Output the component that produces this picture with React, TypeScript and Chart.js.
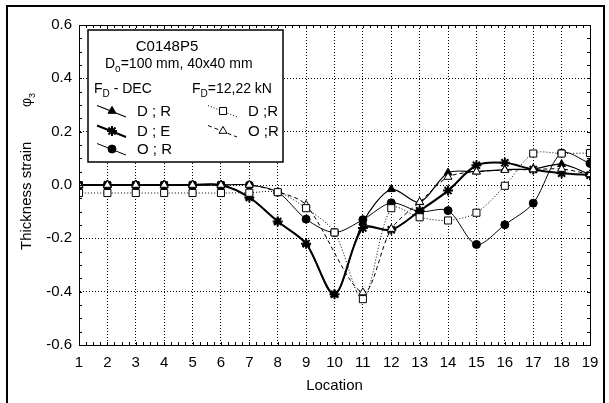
import React, { useEffect, useRef } from 'react';
import { Chart, registerables } from 'chart.js';
import { drawPoint } from 'chart.js/helpers';

Chart.register(...registerables);

const locations = [1, 2, 3, 4, 5, 6, 7, 8, 9, 10, 11, 12, 13, 14, 15, 16, 17, 18, 19];
const yTicks = [-0.6, -0.4, -0.2, 0, 0.2, 0.4, 0.6];

// F_D - DEC
const decDR = [0, 0, 0, 0, 0, 0, -0.045, -0.137, -0.22, -0.41, -0.14, -0.016, -0.065, 0.046, 0.05, 0.058, 0.06, 0.078, 0.04];
const decDE = [0, 0, 0, 0, 0, 0, -0.047, -0.137, -0.22, -0.41, -0.161, -0.168, -0.097, -0.021, 0.074, 0.083, 0.058, 0.044, 0.037];
const decOR = [0, 0, 0, 0, 0, 0, 0, -0.027, -0.128, -0.178, -0.13, -0.067, -0.1, -0.096, -0.223, -0.149, -0.068, 0.12, 0.081];
// F_D = 12,22 kN
const fdDR = [-0.03, -0.03, -0.03, -0.03, -0.03, -0.03, -0.029, -0.027, -0.087, -0.178, -0.428, -0.087, -0.121, -0.133, -0.104, -0.003, 0.118, 0.118, 0.12];
const fdOR = [0, 0, 0, 0, 0, 0, 0, -0.025, -0.075, null, -0.403, -0.165, -0.064, 0.03, 0.05, 0.056, 0.058, 0.06, 0.04];

const FONT = "'Liberation Sans', Arial, Helvetica, sans-serif";

const toPts = (arr: (number | null)[]) => locations.map((x, i) => ({ x, y: arr[i] }));

const styles = {
  fdDR: { pointStyle: 'rect', radius: 5, fill: '#fff', pw: 1, lw: 1, dash: [1, 2] },
  fdOR: { pointStyle: 'triangle', radius: 4.6, fill: '#fff', pw: 1, lw: 1, dash: [4, 3] },
  decDE: { pointStyle: 'star', radius: 5, fill: '#000', pw: 2, lw: 2, dash: [] as number[] },
  decDR: { pointStyle: 'triangle', radius: 4.6, fill: '#000', pw: 1, lw: 1.2, dash: [] as number[] },
  decOR: { pointStyle: 'circle', radius: 4, fill: '#000', pw: 1, lw: 1, dash: [] as number[] },
};

function ds(label: string, arr: (number | null)[], s: any) {
  return {
    label,
    data: toPts(arr),
    borderColor: '#000',
    backgroundColor: s.fill,
    borderWidth: s.lw,
    borderDash: s.dash,
    pointStyle: s.pointStyle,
    pointRadius: s.radius,
    pointBackgroundColor: s.fill,
    pointBorderColor: '#000',
    pointBorderWidth: s.pw,
    tension: 0.3,
    spanGaps: true,
    fill: false,
  };
}

const framePlugin = {
  id: 'framePlugin',
  beforeDraw(chart: any) {
    const ctx = chart.ctx;
    ctx.save();
    ctx.fillStyle = '#fff';
    ctx.fillRect(0, 0, chart.width, chart.height);
    ctx.restore();
  },
  afterDraw(chart: any) {
    const ctx = chart.ctx;
    const { left, right, top, bottom } = chart.chartArea;
    const xs = chart.scales.x;
    const ys = chart.scales.y;
    ctx.save();
    // plot border
    ctx.strokeStyle = '#000';
    ctx.lineWidth = 1;
    ctx.setLineDash([]);
    ctx.strokeRect(left + 0.5, top + 0.5, right - left, bottom - top);
    // minor ticks
    ctx.beginPath();
    for (let v = 1; v <= 19.001; v += 0.25) {
      const px = Math.round(xs.getPixelForValue(v)) + 0.5;
      ctx.moveTo(px, bottom);
      ctx.lineTo(px, bottom - 3);
      ctx.moveTo(px, top);
      ctx.lineTo(px, top + 3);
    }
    for (let v = -0.6; v <= 0.601; v += 0.05) {
      const py = Math.round(ys.getPixelForValue(v)) + 0.5;
      ctx.moveTo(left, py);
      ctx.lineTo(left + 3, py);
      ctx.moveTo(right, py);
      ctx.lineTo(right - 3, py);
    }
    ctx.stroke();

    // outer frame
    ctx.lineWidth = 2;
    ctx.strokeRect(7, 6, 597, 420);

    // axis titles
    ctx.fillStyle = '#000';
    ctx.font = `15px ${FONT}`;
    ctx.textAlign = 'center';
    ctx.textBaseline = 'middle';
    ctx.fillText('Location', (left + right) / 2, 386);

    ctx.save();
    ctx.translate(31, 250);
    ctx.rotate(-Math.PI / 2);
    ctx.textAlign = 'left';
    ctx.textBaseline = 'alphabetic';
    ctx.font = `15px ${FONT}`;
    ctx.fillText('Thickness strain', 0, 0);
    ctx.font = `14px ${FONT}`;
    ctx.fillText('φ', 143, 0);
    const pw = ctx.measureText('φ').width;
    ctx.font = `9px ${FONT}`;
    ctx.fillText('3', 143 + pw, 4);
    ctx.restore();

    // legend box
    const bx = 88, by = 30, bw = 195, bh = 132;
    ctx.fillStyle = '#fff';
    ctx.fillRect(bx, by, bw, bh);
    ctx.strokeStyle = '#000';
    ctx.lineWidth = 1.5;
    ctx.strokeRect(bx, by, bw, bh);

    ctx.fillStyle = '#000';
    ctx.textBaseline = 'alphabetic';
    ctx.textAlign = 'center';
    ctx.font = `15px ${FONT}`;
    ctx.fillText('C0148P5', 167, 51);

    const subText = (x: number, y: number, main: string, sub: string, rest: string, size: number) => {
      ctx.textAlign = 'left';
      ctx.font = `${size}px ${FONT}`;
      ctx.fillText(main, x, y);
      let cx = x + ctx.measureText(main).width;
      ctx.font = `${Math.round(size * 0.72)}px ${FONT}`;
      ctx.fillText(sub, cx, y + 4);
      cx += ctx.measureText(sub).width;
      ctx.font = `${size}px ${FONT}`;
      ctx.fillText(rest, cx, y);
    };
    subText(105, 68, 'D', 'o', '=100 mm, 40x40 mm', 14);
    subText(94, 93, 'F', 'D', ' - DEC', 14);
    subText(192, 93, 'F', 'D', '=12,22 kN', 14);

    const entry = (x0: number, yc: number, s: any, text: string) => {
      ctx.save();
      ctx.strokeStyle = '#000';
      ctx.lineWidth = s.lw;
      ctx.setLineDash(s.dash);
      ctx.beginPath();
      ctx.moveTo(x0, yc - 5.5);
      ctx.lineTo(x0 + 29, yc + 6);
      ctx.stroke();
      ctx.setLineDash([]);
      ctx.fillStyle = s.fill;
      ctx.lineWidth = s.pw;
      drawPoint(ctx, { pointStyle: s.pointStyle, radius: s.radius, rotation: 0, borderWidth: s.pw }, x0 + 15, yc);
      ctx.restore();
      ctx.fillStyle = '#000';
      ctx.textAlign = 'left';
      ctx.textBaseline = 'middle';
      ctx.font = `15px ${FONT}`;
      ctx.fillText(text, x0 + 40, yc + 1);
    };
    entry(97, 111, styles.decDR, 'D ; R');
    entry(97, 131, styles.decDE, 'D ; E');
    entry(97, 149, styles.decOR, 'O ; R');
    entry(208, 111, styles.fdDR, 'D ;R');
    entry(208, 131, styles.fdOR, 'O ;R');

    ctx.restore();
  },
};

export default function App() {
  const ref = useRef<HTMLCanvasElement | null>(null);
  useEffect(() => {
    if (!ref.current) return;
    const chart = new Chart(ref.current, {
      type: 'line',
      data: {
        datasets: [
          ds('D ;R (FD=12,22 kN)', fdDR, styles.fdDR),
          ds('O ;R (FD=12,22 kN)', fdOR, styles.fdOR),
          ds('D ; E', decDE, styles.decDE),
          ds('D ; R', decDR, styles.decDR),
          ds('O ; R', decOR, styles.decOR),
        ] as any,
      },
      options: {
        responsive: false,
        animation: false,
        devicePixelRatio: 1,
        layout: { autoPadding: false, padding: { top: 25, right: 19, left: 0, bottom: 0 } },
        plugins: { legend: { display: false }, tooltip: { enabled: false }, title: { display: false } },
        scales: {
          x: {
            type: 'linear',
            min: 1,
            max: 19,
            afterFit: (s: any) => { s.height = 58; },
            afterBuildTicks: (s: any) => { s.ticks = locations.map((v) => ({ value: v })); },
            ticks: { color: '#000', font: { family: FONT, size: 15 }, padding: 9, maxRotation: 0, autoSkip: false, callback: (v: any) => String(v) },
            grid: { color: '#000', drawTicks: false, lineWidth: 1 },
            border: { display: true, color: '#000', dash: [1, 2] },
          },
          y: {
            type: 'linear',
            min: -0.6,
            max: 0.6,
            afterFit: (s: any) => { s.width = 79; },
            afterBuildTicks: (s: any) => { s.ticks = yTicks.map((v) => ({ value: v })); },
            ticks: { color: '#000', font: { family: FONT, size: 15 }, padding: 7, callback: (v: any) => Number(v).toFixed(1) },
            grid: { color: '#000', drawTicks: false, lineWidth: 1 },
            border: { display: true, color: '#000', dash: [1, 2] },
          },
        },
      },
      plugins: [framePlugin],
    } as any);
    return () => chart.destroy();
  }, []);
  return (
    <div style={{ position: 'fixed', left: 0, top: 0, width: 609, height: 403, background: '#fff' }}>
      <canvas ref={ref} width={609} height={403} style={{ width: 609, height: 403, display: 'block' }} />
    </div>
  );
}
